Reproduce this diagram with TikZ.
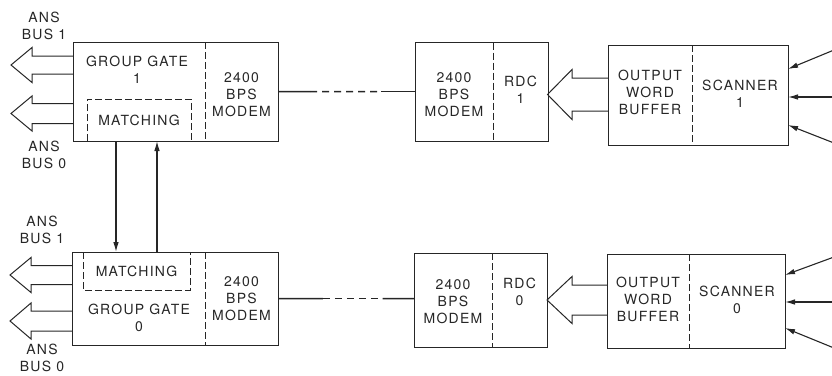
\documentclass[tikz,border=0pt]{standalone}
\usepackage{fontspec}
\setmainfont{TeX Gyre Heros}[LetterSpace=9]
\usetikzlibrary{calc,arrows.meta}
\newcommand{\FatArr}[6]{% #1 box-side point, #2 centre y, #3 tip x, #4 head-back x, #5 shaft half width, #6 head half width
  \pgfmathsetmacro\fya{#2-#5}\pgfmathsetmacro\fyb{#2+#5}%
  \pgfmathsetmacro\fyc{#2-#6}\pgfmathsetmacro\fyd{#2+#6}%
  \draw[fatline] (#1 |- 0,\fya) -- (#4,\fya) -- (#4,\fyc) -- (#3,#2) -- (#4,\fyd) -- (#4,\fyb) -- (#1 |- 0,\fyb);}
\begin{document}
\begin{tikzpicture}[x=1pt,y=-1pt,
  sect/.style={draw=none,inner sep=0pt,outer sep=0pt},
  lbl/.style={align=center,inner sep=0pt,text=black!85,font=\fontsize{14}{17}\selectfont},
  boxline/.style={line width=1.0pt,draw=black!85},
  divider/.style={line width=0.9pt,draw=black!85,dash pattern=on 7pt off 3pt},
  fatline/.style={line width=1.0pt,draw=black!85,line join=miter},
  mline/.style={line width=1.5pt,draw=black!85},
  mdash/.style={line width=1.5pt,draw=black!85,dash pattern=on 7pt off 5pt},
  conn/.style={line width=1.1pt,draw=black!85,-{Latex[length=10pt,width=5.5pt]}},
]
\useasboundingbox (0,0) rectangle (832,375);

% ---------- top row ----------
\node[sect,minimum width=132pt,minimum height=99pt] (gg1) at (139,91.5) {};
\node[sect,minimum width=73pt,minimum height=99pt] (m1) at (241.5,91.5) {};
\node[sect,minimum width=78pt,minimum height=99pt] (rm1) at (454,92) {};
\node[sect,minimum width=55pt,minimum height=99pt] (rdc1) at (520.5,92) {};
\node[sect,minimum width=84pt,minimum height=100pt] (owb1) at (650,95) {};
\node[sect,minimum width=96pt,minimum height=100pt] (sc1) at (740,95) {};

\draw[boxline] (gg1.north west) rectangle (m1.south east);
\draw[divider] (gg1.north east) -- (gg1.south east);
\draw[boxline] (rm1.north west) rectangle (rdc1.south east);
\draw[divider] (rm1.north east) -- (rm1.south east);
\draw[boxline] (owb1.north west) rectangle (sc1.south east);
\draw[divider] (owb1.north east) -- (owb1.south east);

\node[sect,minimum width=104pt,minimum height=42pt,text=black!85,font=\fontsize{14}{17}\selectfont] (mat1) at (139,120) {MATCHING};
\draw[divider] (mat1.south west) -- (mat1.north west) -- (mat1.north east) -- (mat1.south east);

\node[lbl] (t-gg1) at (137,69.5) {GROUP GATE\\1};
\node[lbl] (t-m1) at (241.5,95) {2400\\BPS\\MODEM};
\node[lbl] (t-rm1) at (454,95) {2400\\BPS\\MODEM};
\node[lbl] (t-rdc1) at (520.5,90) {RDC\\1};
\node[lbl] (t-owb1) at (650,92) {OUTPUT\\WORD\\BUFFER};
\node[lbl] (t-sc1) at (740,94) {SCANNER\\1};

\node[lbl] (ab11) at (44,26) {ANS\\BUS 1};
\node[lbl] (ab10) at (44,155) {ANS\\BUS 0};

\FatArr{gg1.west}{65}{11}{32}{9}{17.5}
\FatArr{gg1.west}{113.5}{11}{32}{10}{17.5}
\FatArr{owb1.west}{94.5}{547.5}{572}{16.5}{25}

\coordinate (l1a) at ($(m1.east)!0.235!(m1.east -| rm1.west)$);
\coordinate (l1b) at ($(m1.east)!0.75!(m1.east -| rm1.west)$);
\draw[mline] (m1.east) -- (l1a);
\draw[mdash] (l1a) -- (l1b);
\draw[mline] (l1b) -- (m1.east -| rm1.west);

\coordinate (in1a) at (834,50);
\coordinate (in1b) at (834,97);
\coordinate (in1c) at (834,143);
\draw[conn] (in1a) -- (sc1.east |- 0,69);
\draw[conn] (in1b) -- (sc1.east |- 0,97);
\draw[conn] (in1c) -- (sc1.east |- 0,125);

% ---------- bottom row ----------
\node[sect,minimum width=133pt,minimum height=93pt] (gg0) at (138.5,298.5) {};
\node[sect,minimum width=73pt,minimum height=93pt] (m0) at (241.5,298.5) {};
\node[sect,minimum width=78pt,minimum height=94pt] (rm0) at (453,300) {};
\node[sect,minimum width=55pt,minimum height=94pt] (rdc0) at (519.5,300) {};
\node[sect,minimum width=82pt,minimum height=94pt] (owb0) at (648,301) {};
\node[sect,minimum width=96pt,minimum height=94pt] (sc0) at (737,301) {};

\draw[boxline] (gg0.north west) rectangle (m0.south east);
\draw[divider] (gg0.north east) -- (gg0.south east);
\draw[boxline] (rm0.north west) rectangle (rdc0.south east);
\draw[divider] (rm0.north east) -- (rm0.south east);
\draw[boxline] (owb0.north west) rectangle (sc0.south east);
\draw[divider] (owb0.north east) -- (owb0.south east);

\node[sect,minimum width=107pt,minimum height=38pt,text=black!85,font=\fontsize{14}{17}\selectfont] (mat0) at (136.5,271) {MATCHING};
\draw[divider] (mat0.north west) -- (mat0.south west) -- (mat0.south east) -- (mat0.north east);

\node[lbl] (t-gg0) at (139,318) {GROUP GATE\\0};
\node[lbl] (t-m0) at (241.5,299) {2400\\BPS\\MODEM};
\node[lbl] (t-rm0) at (453,302) {2400\\BPS\\MODEM};
\node[lbl] (t-rdc0) at (519.5,292) {RDC\\0};
\node[lbl] (t-owb0) at (648,299) {OUTPUT\\WORD\\BUFFER};
\node[lbl] (t-sc0) at (737,300) {SCANNER\\0};

\node[lbl] (ab01) at (42,230) {ANS\\BUS 1};
\node[lbl] (ab00) at (42,358) {ANS\\BUS 0};

\FatArr{gg0.west}{275}{10}{31}{9.5}{17.5}
\FatArr{gg0.west}{321}{10}{31}{10}{18}
\FatArr{owb0.west}{300}{547}{572}{15}{23.5}

\coordinate (l0a) at ($(m0.east)!0.33!(m0.east -| rm0.west)$);
\coordinate (l0b) at ($(m0.east)!0.77!(m0.east -| rm0.west)$);
\draw[mline] (m0.east) -- (l0a);
\draw[mdash] (l0a) -- (l0b);
\draw[mline] (l0b) -- (m0.east -| rm0.west);

\coordinate (in0a) at (834,257);
\coordinate (in0b) at (834,302);
\coordinate (in0c) at (834,348);
\draw[conn] (in0a) -- (sc0.east |- 0,275);
\draw[conn] (in0b) -- (sc0.east |- 0,302);
\draw[conn] (in0c) -- (sc0.east |- 0,328);

% ---------- matching links ----------
\draw[conn] (mat1.south -| 116,0) -- (mat0.north -| 116,0);
\draw[conn] (mat0.north -| 157,0) -- (mat1.south -| 157,0);
\end{tikzpicture}
\end{document}
